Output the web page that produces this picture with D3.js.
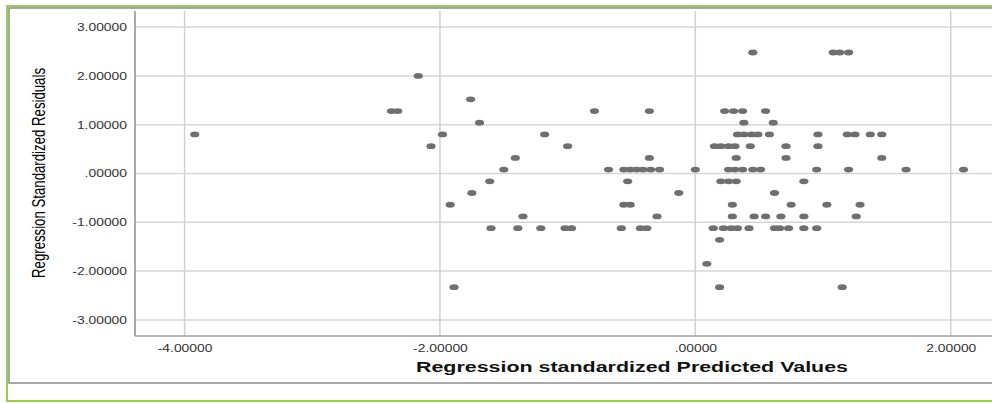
<!DOCTYPE html>
<html>
<head>
<meta charset="utf-8">
<script src="https://cdn.jsdelivr.net/npm/d3@7"></script>
<style>
  body { margin: 0; background: #fff; }
  svg { display: block; font-family: "Liberation Sans", Arial, sans-serif; }
</style>
</head>
<body>
<svg id="chart" width="992" height="403"></svg>
<script>
// residual values come in discrete steps; predicted values listed per step
const residualLevels = [2.48, 2.00, 1.52, 1.28, 1.04, 0.80, 0.56, 0.32, 0.08, -0.16, -0.40, -0.64, -0.88, -1.12, -1.36, -1.85, -2.33];
const predictedByLevel = [
    [0.45, 1.08, 1.13, 1.20],
    [-2.17],
    [-1.76],
    [-2.38, -2.33, -0.79, -0.36, 0.23, 0.30, 0.37, 0.55],
    [-1.69, 0.38, 0.61],
    [-3.92, -1.98, -1.18, 0.33, 0.38, 0.44, 0.49, 0.58, 0.96, 1.19, 1.25, 1.37, 1.46],
    [-2.07, -1.00, 0.15, 0.20, 0.26, 0.31, 0.43, 0.71, 0.96],
    [-1.41, -0.36, 0.32, 0.71, 1.46],
    [-1.50, -0.68, -0.56, -0.51, -0.46, -0.41, -0.35, -0.28, 0.00, 0.26, 0.31, 0.37, 0.45, 0.51, 0.95, 1.20, 1.65, 2.10],
    [-1.61, -0.53, 0.20, 0.26, 0.32, 0.85],
    [-1.75, -0.13, 0.62],
    [-1.92, -0.56, -0.51, 0.29, 0.75, 1.03, 1.29],
    [-1.35, -0.30, 0.29, 0.46, 0.55, 0.67, 0.85, 1.26],
    [-1.60, -1.39, -1.21, -1.02, -0.97, -0.58, -0.43, -0.38, 0.14, 0.22, 0.28, 0.33, 0.42, 0.62, 0.66, 0.73, 0.85, 0.95],
    [0.19],
    [0.09],
    [-1.89, 0.19, 1.15]
];
const xTicks = [-4, -2, 0, 2];
const yTicks = [-3, -2, -1, 0, 1, 2, 3];
const xTitle = 'Regression standardized Predicted Values';
const yTitle = 'Regression Standardized Residuals';

const points = [];
residualLevels.forEach((r, i) => {
    predictedByLevel[i].forEach(p => points.push({ x: p, y: r }));
});

const svg = d3.select('#chart');
const W = +svg.attr('width');
const H = +svg.attr('height');

// outer frames
svg.append('rect')
    .attr('x', 7).attr('y', 6).attr('width', W + 10).attr('height', 395)
    .attr('fill', '#fff').attr('stroke', '#92d050').attr('stroke-width', 2);
svg.append('rect')
    .attr('x', 9).attr('y', 8).attr('width', W + 10).attr('height', 375)
    .attr('fill', '#fff').attr('stroke', '#8c8c8c').attr('stroke-width', 1.5);

const plot = { left: 135, right: 998, top: 11, bottom: 336 };
const x = d3.scaleLinear().domain([-4.388, 2.37]).range([plot.left, plot.left + (2.37 + 4.388) * 127.7]);
const y = d3.scaleLinear().domain([-3.33, 3.33]).range([plot.bottom, plot.top]);

const fmt = d => d === 0 ? '.00000' : d.toFixed(5);

// grid
const grid = svg.append('g');
grid.selectAll('.hg').data(yTicks).join('line')
    .attr('x1', plot.left).attr('x2', W)
    .attr('y1', d => y(d)).attr('y2', d => y(d))
    .attr('stroke', '#d6d6d6').attr('stroke-width', 1.5);
grid.selectAll('.vg').data(xTicks).join('line')
    .attr('x1', d => x(d)).attr('x2', d => x(d))
    .attr('y1', plot.top).attr('y2', plot.bottom)
    .attr('stroke', '#d0d0d0').attr('stroke-width', 1.5);

// axes
const xAxis = svg.append('g')
    .attr('transform', `translate(0,${plot.bottom})`)
    .call(d3.axisBottom(x).tickValues(xTicks).tickFormat(fmt).tickSize(0).tickPadding(9));
const yAxis = svg.append('g')
    .attr('transform', `translate(${plot.left},0)`)
    .call(d3.axisLeft(y).tickValues(yTicks).tickFormat(fmt).tickSize(0).tickPadding(8));

[xAxis, yAxis].forEach(a => {
    a.select('.domain').remove();
    a.selectAll('text')
        .attr('font-family', '"Liberation Sans", Arial, sans-serif')
        .attr('font-size', 10.5)
        .attr('fill', '#333')
        .classed('stretch', true);
});

svg.append('line')
    .attr('x1', plot.left).attr('x2', plot.left)
    .attr('y1', plot.top).attr('y2', plot.bottom)
    .attr('stroke', '#8a8a8a').attr('stroke-width', 1.5);
svg.append('line')
    .attr('x1', plot.left).attr('x2', W)
    .attr('y1', plot.bottom).attr('y2', plot.bottom)
    .attr('stroke', '#a0a0a0').attr('stroke-width', 1.5);

// points
svg.append('g').selectAll('ellipse').data(points).join('ellipse')
    .attr('cx', d => x(d.x))
    .attr('cy', d => y(d.y))
    .attr('rx', 4.6).attr('ry', 2.9)
    .attr('fill', '#6f6f6f');

// titles
svg.append('text')
    .attr('x', 632).attr('y', 372)
    .attr('text-anchor', 'middle')
    .attr('font-size', 14.5).attr('font-weight', 'bold')
    .attr('fill', '#111')
    .attr('textLength', 432).attr('lengthAdjust', 'spacingAndGlyphs')
    .text(xTitle);
svg.append('text')
    .attr('transform', 'translate(45,173) rotate(-90)')
    .attr('text-anchor', 'middle')
    .attr('font-family', '"Liberation Sans Narrow", "Arial Narrow", sans-serif')
    .attr('font-size', 17.5)
    .attr('fill', '#000')
    .attr('textLength', 210).attr('lengthAdjust', 'spacingAndGlyphs')
    .text(yTitle);

// tick labels in the reference are stretched horizontally
svg.selectAll('text.stretch').each(function () {
    const w = this.getComputedTextLength();
    d3.select(this).attr('textLength', w * 1.32).attr('lengthAdjust', 'spacingAndGlyphs');
});
</script>
</body>
</html>
